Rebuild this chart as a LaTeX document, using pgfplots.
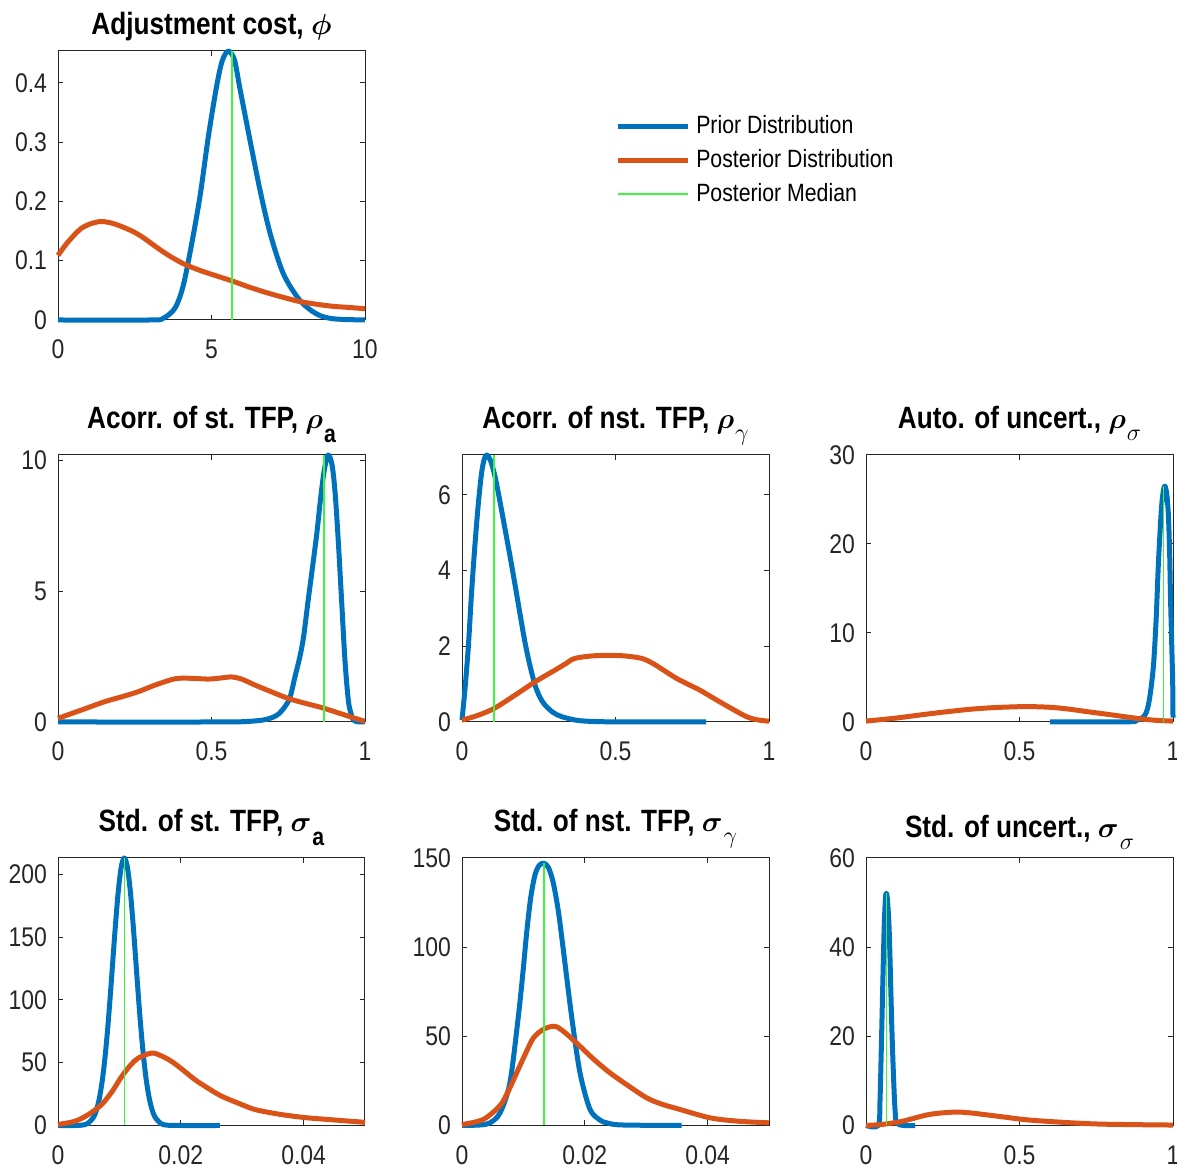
\documentclass[border=0pt]{standalone}
\usepackage{fontspec}
\usepackage{amsmath}
\usepackage{pgfplots}
\pgfplotsset{compat=1.18}
\setmainfont{Liberation Sans}[FakeStretch=0.85]
\definecolor{mblue}{RGB}{0,114,189}
\definecolor{morange}{RGB}{217,83,25}
\definecolor{mgreen}{RGB}{60,245,60}
\definecolor{axgray}{RGB}{38,38,38}
\newcommand{\tickfont}{\fontsize{13.5}{16}\selectfont}
\newcommand{\titfont}{\fontsize{15.4}{18}\selectfont\bfseries}
\newcommand{\legfont}{\fontsize{12.5}{15}\selectfont}
\newcommand{\subb}[1]{\kern0.5pt\raisebox{-7pt}{\fontsize{12.5}{12}\selectfont\bfseries #1}}
\newcommand{\subg}[1]{\kern0.5pt\raisebox{-6pt}{\fontsize{12.5}{12}\selectfont$#1$}}
\pgfplotsset{
  mpanel/.style={
    scale only axis, clip=false, enlargelimits=false, scaled ticks=false,
    width=153.5pt,
    axis line style={draw=axgray, line width=0.5pt},
    every tick/.style={draw=axgray, line width=0.5pt},
    major tick length=2.5pt, tick align=inside,
    tick label style={font=\tickfont, text=axgray},
    xticklabel style={yshift=-6.5pt},
    yticklabel style={xshift=-2pt},
    title style={font=\titfont, anchor=base, at={(0.5,1)}},
    legend image code/.code={\draw[##1] (0pt,0pt) -- (35pt,0pt);},
  },
  pblue/.style={draw=mblue, line width=2.5pt, line join=round, smooth, tension=0.5},
  porange/.style={draw=morange, line width=2.5pt, line join=round, smooth, tension=0.5},
  pgreen/.style={draw=mgreen, line width=0.75pt},
}
\begin{document}
\begin{tikzpicture}
\useasboundingbox (0,0) rectangle (588.5pt,585.5pt);
% ---------- Row 1 ----------
\begin{axis}[mpanel, at={(29pt,425.5pt)}, anchor=south west, height=134.5pt,
  xmin=0, xmax=10, ymin=0, ymax=0.4535,
  xtick={0,5,10}, xticklabels={0,5,10},
  ytick={0,0.1,0.2,0.3,0.4}, yticklabels={0,0.1,0.2,0.3,0.4},
  title style={yshift=2pt},
  title={Adjustment cost, $\boldsymbol{\phi}$},
  legend style={at={(1.814,0.773)}, anchor=north west, draw=none, fill=none,
    font=\legfont, row sep=3.5pt, inner sep=0pt,
    nodes={inner sep=1.5pt, text=black},
    /tikz/every odd column/.append style={column sep=1.5pt}},
  legend cell align=left]
\addplot[pblue] coordinates {(0,0) (3.0,0) (3.43,0.003) (3.81,0.02) (4.08,0.058) (4.36,0.13) (4.63,0.21) (4.9,0.31) (5.17,0.395) (5.35,0.437) (5.55,0.4535) (5.75,0.438) (5.93,0.389) (6.25,0.304) (6.58,0.219) (6.91,0.146) (7.34,0.078) (7.88,0.033) (8.43,0.010) (8.97,0.002) (10,0)};
\addlegendentry{Prior Distribution}
\addplot[porange] coordinates {(0,0.109) (0.3,0.13) (0.7,0.152) (1.0,0.161) (1.37,0.166) (1.7,0.164) (2.0,0.159) (2.45,0.149) (2.8,0.138) (3.2,0.123) (3.6,0.109) (4.08,0.095) (4.6,0.084) (5.0,0.077) (5.66,0.066) (6.2,0.056) (6.8,0.046) (7.35,0.038) (7.88,0.031) (8.5,0.026) (8.97,0.023) (9.51,0.021) (10,0.019)};
\addlegendentry{Posterior Distribution}
\addplot[pgreen] coordinates {(5.66,0) (5.66,0.4535)};
\addlegendentry{Posterior Median}
\end{axis}
% ---------- Row 2 ----------
\begin{axis}[mpanel, at={(29pt,224.5pt)}, anchor=south west, height=133.5pt,
  xmin=0, xmax=1, ymin=0, ymax=10.2,
  xtick={0,0.5,1}, xticklabels={0,0.5,1},
  ytick={0,5,10}, yticklabels={0,5,10},
  title style={yshift=7pt},
  title={Acorr. of st. TFP, $\boldsymbol{\rho}$\subb{a}}]
\addplot[pblue] coordinates {(0,0) (0.5,0) (0.6,0.01) (0.67,0.08) (0.712,0.25) (0.739,0.58) (0.756,0.95) (0.772,1.73) (0.788,2.5) (0.8,3.26) (0.815,4.66) (0.83,6.0) (0.843,7.2) (0.855,8.5) (0.867,9.6) (0.88,10.2) (0.893,9.8) (0.903,8.7) (0.913,6.9) (0.924,4.6) (0.935,2.3) (0.946,0.8) (0.955,0.3) (0.962,0.08) (0.975,0.01) (1,0)};
\addplot[porange] coordinates {(0,0.14) (0.077,0.46) (0.153,0.78) (0.21,0.97) (0.262,1.16) (0.316,1.41) (0.381,1.65) (0.43,1.67) (0.49,1.64) (0.53,1.68) (0.566,1.72) (0.6,1.63) (0.642,1.41) (0.7,1.13) (0.75,0.9) (0.8,0.73) (0.859,0.55) (0.92,0.32) (0.99,0.06) (1,0.03)};
\addplot[pgreen] coordinates {(0.866,0) (0.866,10.2)};
\end{axis}
\begin{axis}[mpanel, at={(231pt,224.5pt)}, anchor=south west, height=133.5pt,
  xmin=0, xmax=1, ymin=0, ymax=7.05,
  xtick={0,0.5,1}, xticklabels={0,0.5,1},
  ytick={0,2,4,6}, yticklabels={0,2,4,6},
  title style={yshift=7pt},
  title={Acorr. of nst. TFP, $\boldsymbol{\rho}$\subg{\gamma}}]
\addplot[pblue] coordinates {(0,0.05) (0.01,0.9) (0.021,2.03) (0.031,3.4) (0.042,4.66) (0.053,5.75) (0.064,6.59) (0.073,6.95) (0.081,7.05) (0.093,6.9) (0.107,6.5) (0.123,5.85) (0.14,5.1) (0.157,4.35) (0.173,3.61) (0.189,2.85) (0.205,2.11) (0.221,1.5) (0.238,0.97) (0.254,0.65) (0.27,0.45) (0.297,0.25) (0.325,0.14) (0.37,0.05) (0.41,0.02) (0.5,0.003) (0.795,0)};
\addplot[porange] coordinates {(0,0.05) (0.05,0.17) (0.105,0.36) (0.173,0.71) (0.238,1.06) (0.303,1.37) (0.34,1.55) (0.368,1.68) (0.433,1.75) (0.52,1.75) (0.585,1.68) (0.623,1.54) (0.66,1.35) (0.699,1.15) (0.74,0.98) (0.775,0.84) (0.84,0.53) (0.89,0.3) (0.927,0.14) (0.96,0.06) (1,0.02)};
\addplot[pgreen] coordinates {(0.105,0) (0.105,7.05)};
\end{axis}
\begin{axis}[mpanel, at={(433pt,224.5pt)}, anchor=south west, height=133.5pt,
  xmin=0, xmax=1, ymin=0, ymax=30,
  xtick={0,0.5,1}, xticklabels={0,0.5,1},
  ytick={0,10,20,30}, yticklabels={0,10,20,30},
  title style={yshift=7pt},
  title={Auto. of uncert., $\boldsymbol{\rho}$\subg{\sigma}}]
\addplot[pblue] coordinates {(0.6,0) (0.85,0.02) (0.88,0.15) (0.909,0.79) (0.923,2.5) (0.936,6.2) (0.945,11.5) (0.952,17.5) (0.958,21.5) (0.963,24.3) (0.969,26.1) (0.974,26.5) (0.98,25.5) (0.985,23.2) (0.989,19) (0.992,13.8) (0.996,8.5) (0.999,4.4) (1.0,0.5)};
\addplot[porange] coordinates {(0,0.1) (0.1,0.45) (0.176,0.79) (0.25,1.1) (0.339,1.43) (0.42,1.62) (0.52,1.73) (0.6,1.65) (0.66,1.45) (0.719,1.17) (0.8,0.8) (0.882,0.41) (0.94,0.2) (1,0.1)};
\addplot[pgreen] coordinates {(0.969,0) (0.969,26.5)};
\end{axis}
% ---------- Row 3 ----------
\begin{axis}[mpanel, at={(29pt,22.75pt)}, anchor=south west, height=133.75pt,
  xmin=0, xmax=0.05, ymin=0, ymax=213,
  xtick={0,0.02,0.04}, xticklabels={0,0.02,0.04},
  ytick={0,50,100,150,200}, yticklabels={0,50,100,150,200},
  title style={yshift=7pt},
  title={Std. of st. TFP, $\boldsymbol{\sigma}$\subb{a}}]
\addplot[pblue] coordinates {(0,0) (0.0028,0) (0.0038,0.24) (0.0048,1.45) (0.0058,6.7) (0.0063,12.9) (0.0068,23.2) (0.0073,39) (0.0078,61.2) (0.0083,89.6) (0.0088,122.4) (0.0093,156) (0.0098,185.5) (0.0103,205.8) (0.0108,213) (0.0113,205.8) (0.0118,185.5) (0.0123,156) (0.0128,122.4) (0.0133,89.6) (0.0138,61.2) (0.0143,39) (0.0148,23.2) (0.0153,12.9) (0.0158,6.7) (0.0168,1.45) (0.0178,0.24) (0.02,0) (0.02638,0)};
\addplot[porange] coordinates {(0,0.8) (0.00277,3.4) (0.00494,8.7) (0.00711,16.7) (0.0088,27) (0.01037,39) (0.0118,48) (0.01308,53.7) (0.01526,57.7) (0.0168,55.5) (0.01851,51) (0.0204,44) (0.0223,36.5) (0.0245,29.5) (0.02666,23.3) (0.0295,17.5) (0.0321,12.7) (0.036,9) (0.0402,6.3) (0.0445,4.6) (0.05,2.5)};
\addplot[pgreen] coordinates {(0.0108,0) (0.0108,213)};
\end{axis}
\begin{axis}[mpanel, at={(231pt,22.75pt)}, anchor=south west, height=133.75pt,
  xmin=0, xmax=0.05, ymin=0, ymax=150,
  xtick={0,0.02,0.04}, xticklabels={0,0.02,0.04},
  ytick={0,50,100,150}, yticklabels={0,50,100,150},
  title style={yshift=7pt},
  title={Std. of nst. TFP, $\boldsymbol{\sigma}$\subg{\gamma}}]
\addplot[pblue] coordinates {(0,0) (0.003,0.3) (0.00456,1.5) (0.0062,7.1) (0.0078,23.9) (0.00917,61) (0.0099,85) (0.01053,108) (0.0112,128) (0.01189,140.5) (0.0126,146) (0.01336,147) (0.0141,144.5) (0.01487,136) (0.0157,120) (0.0165,98.5) (0.01786,61) (0.01922,29.5) (0.02085,9) (0.0225,3) (0.02357,1.5) (0.026,0.3) (0.03578,0)};
\addplot[porange] coordinates {(0,0.5) (0.00347,3.4) (0.0062,11.2) (0.0075,19) (0.0089,29.5) (0.0103,40) (0.01161,49) (0.0133,54) (0.01515,55.6) (0.0168,52) (0.01922,44.4) (0.0215,37) (0.0241,29.5) (0.0272,22) (0.03008,15.5) (0.0325,12) (0.0355,9) (0.0404,4.3) (0.045,2.4) (0.05,1.5)};
\addplot[pgreen] coordinates {(0.01336,0) (0.01336,147)};
\end{axis}
\begin{axis}[mpanel, at={(433pt,22.75pt)}, anchor=south west, height=133.75pt,
  xmin=0, xmax=1, ymin=0, ymax=60,
  xtick={0,0.5,1}, xticklabels={0,0.5,1},
  ytick={0,20,40,60}, yticklabels={0,20,40,60},
  title style={yshift=4pt},
  title={Std. of uncert., $\boldsymbol{\sigma}$\subg{\sigma}}]
\addplot[pblue] coordinates {(0,0) (0.04,0) (0.0456,5.6) (0.051,20.7) (0.0586,43) (0.063,50.5) (0.066,52.1) (0.07,50.5) (0.0759,43) (0.0847,20.7) (0.0945,3.6) (0.105,0.3) (0.16,0)};
\addplot[porange] coordinates {(0,0) (0.06,0.3) (0.1216,1) (0.2085,2.5) (0.306,3) (0.426,2.1) (0.52,1.3) (0.632,0.75) (0.77,0.3) (1,0.1)};
\addplot[pgreen] coordinates {(0.0673,0) (0.0673,52.1)};
\end{axis}
\end{tikzpicture}
\end{document}
